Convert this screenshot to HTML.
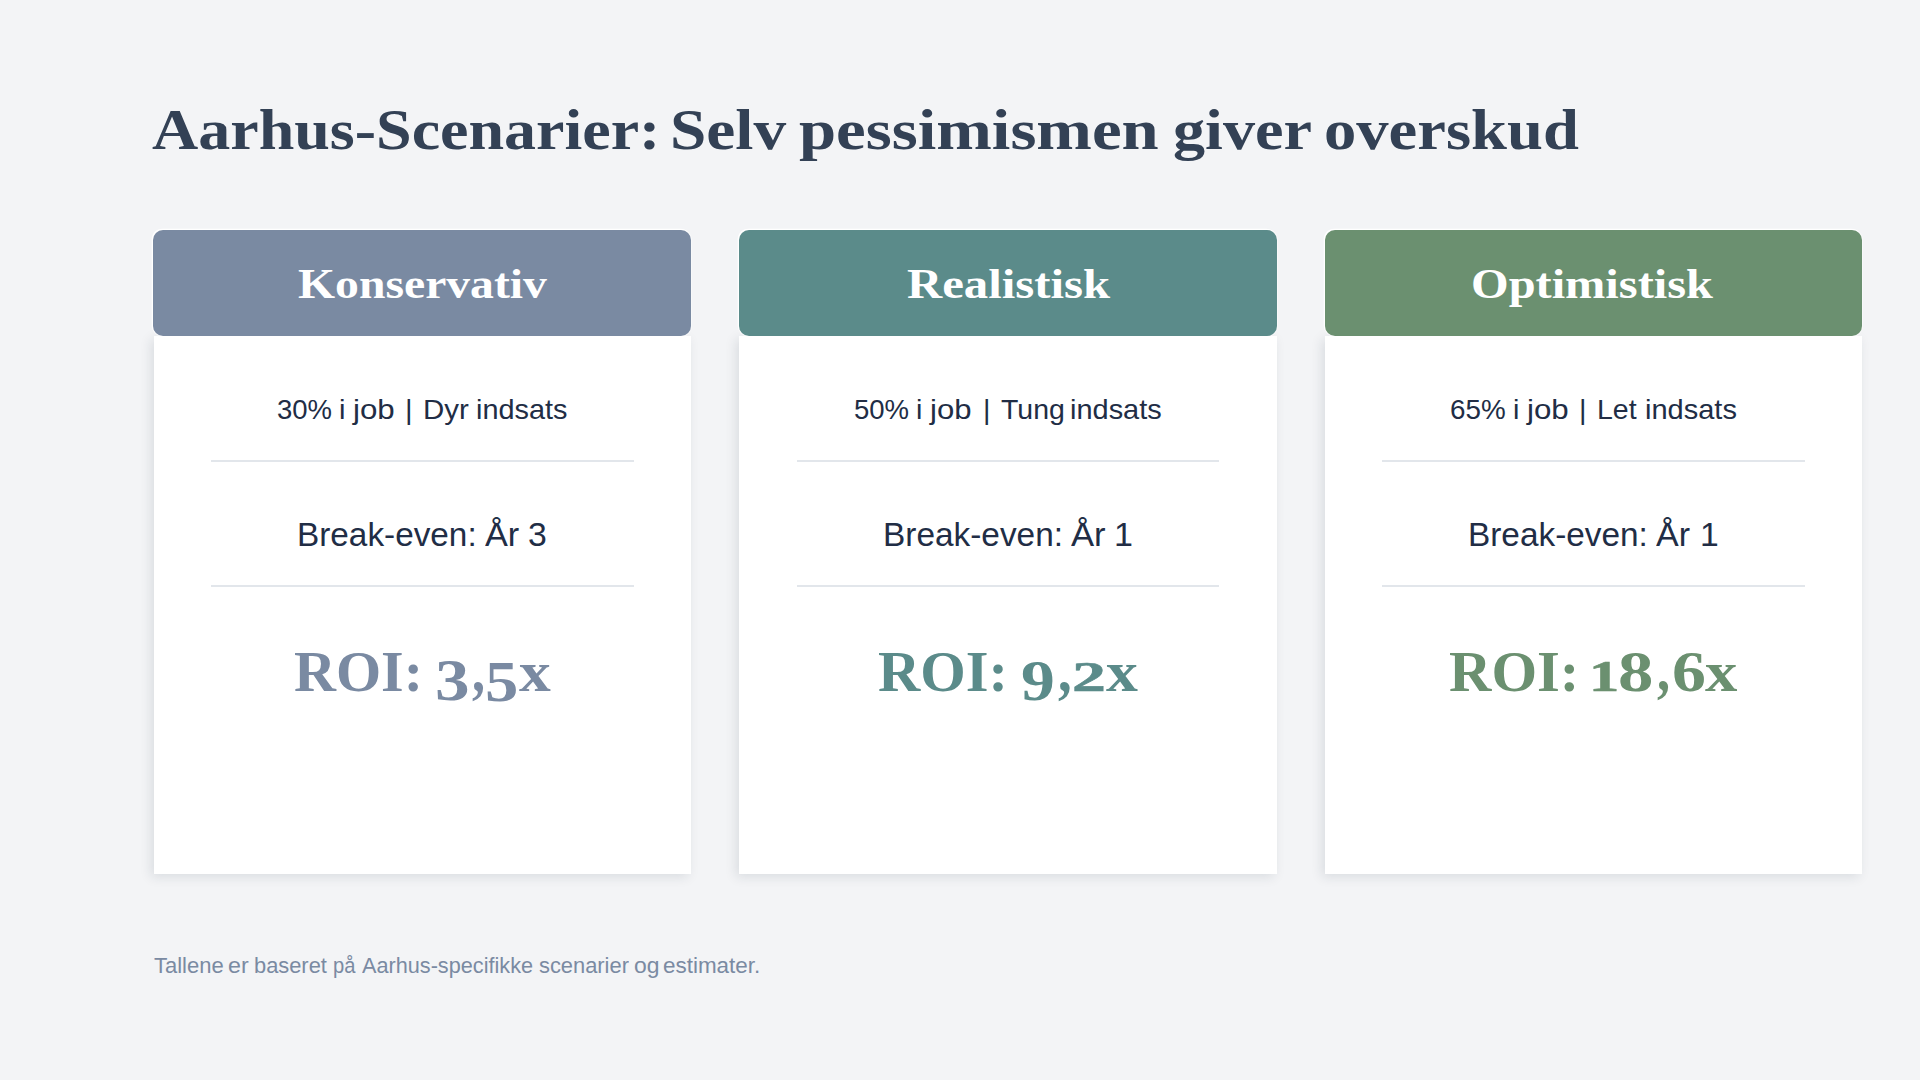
<!DOCTYPE html>
<html lang="da">
<head>
<meta charset="utf-8">
<title>Aarhus-Scenarier</title>
<style>
*{margin:0;padding:0;box-sizing:border-box}
html,body{width:1920px;height:1080px;overflow:hidden;background:#f3f4f6}
body{position:relative;font-family:"Liberation Sans",sans-serif;color:#212d45}
.serif{font-family:"Liberation Serif",serif;font-weight:700}
/* a line of absolutely placed words */
.ln{position:absolute;left:0;width:100%;height:0;white-space:nowrap;line-height:1}
.ln span,.r3 span{position:absolute;top:0;display:block;line-height:1;transform-origin:0 50%;white-space:nowrap}
h1{top:100.6px;font-size:57px;color:#334155;font-weight:700}
.card{position:absolute;top:230px;width:537.6px;height:643.6px}
.c1{left:153.6px}.c2{left:739.2px}.c3{left:1324.8px}
.body{position:absolute;left:0;top:106px;width:100%;height:537.6px;background:#fff;box-shadow:-3px 3px 11px rgba(30,41,59,.115)}
.head{position:absolute;left:-.2px;top:0;width:537.8px;height:106px;border-radius:10px;box-shadow:-.7px -.7px 0 .6px #fff,0 0 0 1px rgba(255,255,255,.45)}
.c1 .head{background:#7a8aa2}.c2 .head{background:#5b8b8a}.c3 .head{background:#6b9070}
.hd{top:33.7px;font-size:41.6px;color:#fff}
.r1{top:165px;font-size:28.5px}
.r2{top:288px;font-size:33.2px}
.r3{position:absolute;left:0;top:0;width:100%;height:0;white-space:nowrap}
.c1 .r3{color:#7a8aa2}.c2 .r3{color:#5b8b8a}.c3 .r3{color:#6b9070}
.hr{position:absolute;left:57.6px;width:422.4px;height:2px;background:#e2e6eb}
.h1{top:230px}.h2{top:355px}
.foot{top:956.3px;font-size:21.4px;color:#7a8aa2}
</style>
</head>
<body>
<h1 class="ln serif"><span style="left:151.6px;transform:scaleX(1.123)">Aarhus-Scenarier:</span> <span style="left:670.3px;transform:scaleX(1.146)">Selv</span> <span style="left:799.4px;transform:scaleX(1.171)">pessimismen</span> <span style="left:1172.6px;transform:scaleX(1.126)">giver</span> <span style="left:1324.4px;transform:scaleX(1.133)">overskud</span></h1>

<div class="card c1">
  <div class="body"></div>
  <div class="head"></div>
  <div class="ln hd serif"><span style="left:144.3px;transform:scaleX(1.146)">Konservativ</span></div>
  <div class="ln r1"><span style="left:123.0px;transform:scaleX(0.965)">30%</span> <span style="left:185.5px;transform:scaleX(1.023)">i</span> <span style="left:199.6px;transform:scaleX(1.097)">job</span> <span style="left:251.5px;transform:scaleX(1.023)">|</span> <span style="left:269.7px;transform:scaleX(1.033)">Dyr</span> <span style="left:322.8px;transform:scaleX(1.013)">indsats</span></div>
  <div class="hr h1"></div>
  <div class="ln r2"><span style="left:143.5px;transform:scaleX(1.004)">Break-even:</span> <span style="left:331.7px;transform:scaleX(1.032)">År</span> <span style="left:374.9px;transform:scaleX(1.018)">3</span></div>
  <div class="hr h2"></div>
  <div class="r3 serif"><span style="left:140.8px;top:413.7px;font-size:56.0px;transform:scaleX(1.037)">ROI:</span> <span style="left:281.7px;top:421.9px;font-size:58.4px;transform:scaleX(1.184)">3</span><span style="left:318.6px;top:409.4px;font-size:62.4px;transform:scaleX(0.839)">,</span><span style="left:331.6px;top:422.6px;font-size:57.0px;transform:scaleX(1.170)">5</span><span style="left:365.4px;top:413.3px;font-size:57.4px;transform:scaleX(1.107)">x</span></div>
</div>

<div class="card c2">
  <div class="body"></div>
  <div class="head"></div>
  <div class="ln hd serif"><span style="left:167.8px;transform:scaleX(1.172)">Realistisk</span></div>
  <div class="ln r1"><span style="left:114.4px;transform:scaleX(0.966)">50%</span> <span style="left:177.0px;transform:scaleX(1.007)">i</span> <span style="left:191.2px;transform:scaleX(1.091)">job</span> <span style="left:243.6px;transform:scaleX(1.007)">|</span> <span style="left:261.5px;transform:scaleX(0.998)">Tung</span> <span style="left:331.2px;transform:scaleX(1.016)">indsats</span></div>
  <div class="hr h1"></div>
  <div class="ln r2"><span style="left:143.6px;transform:scaleX(1.006)">Break-even:</span> <span style="left:331.5px;transform:scaleX(1.044)">År</span> <span style="left:374.8px;transform:scaleX(1.025)">1</span></div>
  <div class="hr h2"></div>
  <div class="r3 serif"><span style="left:139.0px;top:413.7px;font-size:56.0px;transform:scaleX(1.044)">ROI:</span> <span style="left:281.4px;top:422.0px;font-size:57.8px;transform:scaleX(1.171)">9</span><span style="left:318.4px;top:409.4px;font-size:62.4px;transform:scaleX(0.880)">,</span><span style="left:333.1px;top:424.9px;font-size:43.2px;transform:scaleX(1.572);-webkit-text-stroke:.6px currentColor">2</span><span style="left:366.4px;top:413.3px;font-size:57.4px;transform:scaleX(1.111)">x</span></div>
</div>

<div class="card c3">
  <div class="body"></div>
  <div class="head"></div>
  <div class="ln hd serif"><span style="left:146.7px;transform:scaleX(1.163)">Optimistisk</span></div>
  <div class="ln r1"><span style="left:125.2px;transform:scaleX(0.976)">65%</span> <span style="left:188.1px;transform:scaleX(1.009)">i</span> <span style="left:202.4px;transform:scaleX(1.097)">job</span> <span style="left:254.4px;transform:scaleX(1.009)">|</span> <span style="left:272.6px;transform:scaleX(0.999)">Let</span> <span style="left:320.0px;transform:scaleX(1.018)">indsats</span></div>
  <div class="hr h1"></div>
  <div class="ln r2"><span style="left:143.3px;transform:scaleX(1.005)">Break-even:</span> <span style="left:331.7px;transform:scaleX(1.024)">År</span> <span style="left:375.2px;transform:scaleX(1.014)">1</span></div>
  <div class="hr h2"></div>
  <div class="r3 serif"><span style="left:124.6px;top:413.7px;font-size:56.0px;transform:scaleX(1.048)">ROI:</span> <span style="left:264.7px;top:424.2px;font-size:44.4px;transform:scaleX(1.363);-webkit-text-stroke:.6px currentColor">1</span><span style="left:293.1px;top:413.2px;font-size:57.9px;transform:scaleX(1.223)">8</span><span style="left:332.3px;top:408.4px;font-size:63.3px;transform:scaleX(0.828)">,</span><span style="left:346.9px;top:413.2px;font-size:57.9px;transform:scaleX(1.172)">6</span><span style="left:380.6px;top:413.3px;font-size:57.4px;transform:scaleX(1.128)">x</span></div>
</div>

<div class="ln foot"><span style="left:153.8px;transform:scaleX(1.028)">Tallene</span> <span style="left:228.2px;transform:scaleX(1.086)">er</span> <span style="left:254.1px;transform:scaleX(1.021)">baseret</span> <span style="left:333.1px;transform:scaleX(0.942)">på</span> <span style="left:362.4px;transform:scaleX(1.013)">Aarhus-specifikke</span> <span style="left:538.9px;transform:scaleX(1.022)">scenarier</span> <span style="left:633.6px;transform:scaleX(1.070)">og</span> <span style="left:663.2px;transform:scaleX(1.049)">estimater.</span></div>
</body>
</html>
